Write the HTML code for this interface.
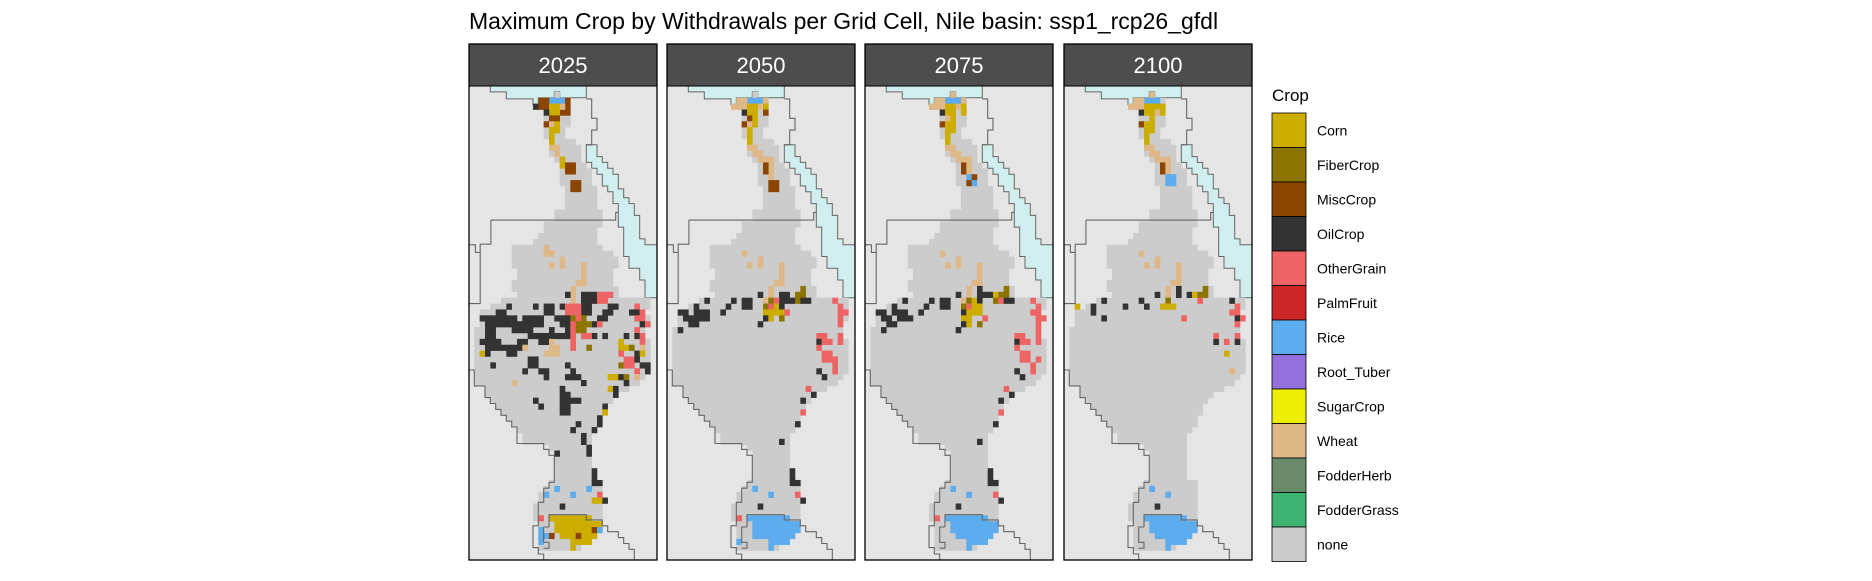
<!DOCTYPE html>
<html><head><meta charset="utf-8"><style>
html,body{margin:0;padding:0;background:#fff;}
body{width:1872px;height:576px;overflow:hidden;font-family:"Liberation Sans",sans-serif;}
svg text{font-family:"Liberation Sans",sans-serif;}
</style></head><body>
<svg id="chart" width="1872" height="576" viewBox="0 0 1872 576" xmlns="http://www.w3.org/2000/svg">
<text x="469" y="29" font-size="23" fill="#000">Maximum Crop by Withdrawals per Grid Cell, Nile basin: ssp1_rcp26_gfdl</text>
<g id="panels"></g>
<g id="legend"></g>
</svg>
<script>
// ---- data ----
const years = ['2025','2050','2075','2100'];
const cropNames = ['Corn','FiberCrop','MiscCrop','OilCrop','OtherGrain','PalmFruit','Rice','Root_Tuber','SugarCrop','Wheat','FodderHerb','FodderGrass','none'];
const cropCodes = ['C','F','M','O','G','P','R','T','S','W','H','A','N'];
const cropColors = ['#cdad00','#8b7500','#8b4500','#333333','#ee6363','#cd2626','#5cacee','#9370db','#eeee00','#deb887','#698b69','#3cb371','#cccccc'];
// basin rows: [row, colStart, colEnd)
const basinRows = [[1,16,17],[2,13,19],[3,12,19],[4,14,19],[5,14,19],[6,14,19],[7,14,18],[8,14,18],[9,15,20],[10,15,21],[11,15,21],[12,16,21],[13,17,22],[14,17,23],[15,17,23],[16,17,23],[17,18,24],[18,18,24],[19,18,24],[20,18,24],[21,16,25],[22,16,25],[23,14,25],[24,14,24],[25,13,24],[26,12,24],[27,8,25],[28,8,27],[29,8,28],[30,8,28],[31,9,27],[32,9,27],[33,8,27],[34,8,28],[35,9,28],[36,6,34],[37,4,34],[38,2,33],[39,2,34],[40,2,33],[41,1,33],[42,1,33],[43,1,34],[44,1,34],[45,1,34],[46,1,34],[47,1,34],[48,1,34],[49,1,33],[50,1,32],[51,3,30],[52,3,28],[53,4,27],[54,5,26],[55,6,26],[56,7,25],[57,8,25],[58,9,24],[59,10,23],[60,10,23],[61,15,23],[62,16,23],[63,16,23],[64,16,23],[65,16,23],[66,16,23],[67,15,25],[68,14,25],[69,13,25],[70,13,25],[71,12,25],[72,12,25],[73,12,25],[74,13,25],[75,13,25],[76,13,24],[77,13,23],[78,13,21]];
const lakeRows = [[73,15,23],[74,16,25],[75,16,25],[76,17,24],[77,19,23],[78,19,20]];
const lakeCrop = ['C','R','R','R'];
const cells2025 = [[15,2,'R'],[16,2,'R'],[17,2,'R'],[13,2,'M'],[14,2,'M'],[13,3,'M'],[14,3,'M'],[12,3,'O'],[18,2,'M'],[18,3,'M'],[18,4,'M'],[17,4,'M'],[15,3,'C'],[16,3,'C'],[17,3,'W'],[15,4,'C'],[16,4,'C'],[14,4,'O'],[15,5,'M'],[16,5,'M'],[14,6,'M'],[15,6,'W'],[16,6,'C'],[15,7,'C'],[16,7,'C'],[15,8,'C'],[15,9,'C'],[15,10,'W'],[16,10,'W'],[16,11,'W'],[17,12,'C'],[17,13,'C'],[18,13,'M'],[19,13,'M'],[18,14,'M'],[19,14,'M'],[19,16,'M'],[20,16,'M'],[19,17,'M'],[20,17,'M'],
[14,27,'W'],[14,28,'W'],[15,28,'W'],[17,29,'W'],[17,30,'W'],[15,30,'W'],[21,30,'W'],[21,31,'W'],[21,32,'W'],[20,33,'W'],[21,33,'W'],[19,34,'W'],[19,35,'W'],[19,36,'W'],
[18,35,'O'],[21,35,'O'],[22,35,'O'],[23,35,'O'],[21,36,'O'],[22,36,'O'],[23,36,'O'],[24,35,'G'],[25,35,'G'],[26,35,'G'],[24,36,'G'],[25,36,'G'],
[7,37,'O'],[12,37,'O'],[14,37,'O'],[15,37,'O'],[17,37,'O'],[21,37,'O'],[22,37,'O'],[26,37,'O'],[27,37,'O'],[18,37,'G'],[19,37,'G'],[20,37,'G'],[31,37,'G'],
[5,38,'O'],[6,38,'O'],[14,38,'O'],[15,38,'O'],[21,38,'O'],[22,38,'O'],[25,38,'O'],[26,38,'O'],[30,38,'O'],[31,38,'O'],[18,38,'G'],[19,38,'G'],[20,38,'G'],[32,38,'G'],
[2,39,'O'],[3,39,'O'],[4,39,'O'],[5,39,'O'],[6,39,'O'],[7,39,'O'],[8,39,'O'],[10,39,'O'],[11,39,'O'],[12,39,'O'],[13,39,'O'],[16,39,'O'],[17,39,'O'],[18,39,'O'],[24,39,'O'],[25,39,'O'],[19,39,'F'],[21,39,'F'],[20,39,'G'],[31,39,'G'],[32,39,'G'],
[3,40,'O'],[4,40,'O'],[5,40,'O'],[6,40,'O'],[7,40,'O'],[8,40,'O'],[9,40,'O'],[10,40,'O'],[11,40,'O'],[12,40,'O'],[13,40,'O'],[17,40,'O'],[18,40,'O'],[23,40,'O'],[32,40,'O'],[19,40,'G'],[24,40,'G'],[33,40,'G'],[20,40,'F'],[21,40,'F'],[22,40,'F'],
[3,41,'O'],[4,41,'O'],[8,41,'O'],[9,41,'O'],[10,41,'O'],[11,41,'O'],[15,41,'O'],[18,41,'O'],[19,41,'G'],[31,41,'G'],[20,41,'F'],[21,41,'F'],
[3,42,'O'],[4,42,'O'],[11,42,'O'],[12,42,'O'],[13,42,'O'],[14,42,'O'],[15,42,'O'],[16,42,'O'],[17,42,'O'],[18,42,'O'],[23,42,'O'],[25,42,'O'],[29,42,'O'],[31,42,'O'],[19,42,'G'],[21,42,'G'],[22,42,'G'],[32,42,'G'],
[2,43,'O'],[3,43,'O'],[4,43,'O'],[5,43,'O'],[9,43,'O'],[10,43,'O'],[13,43,'O'],[14,43,'O'],[15,43,'W'],[19,43,'G'],[28,43,'C'],[32,43,'G'],
[3,44,'O'],[4,44,'O'],[5,44,'O'],[6,44,'O'],[7,44,'O'],[8,44,'O'],[9,44,'O'],[10,44,'W'],[15,44,'W'],[16,44,'W'],[19,44,'G'],[22,44,'F'],[28,44,'C'],[29,44,'C'],[30,44,'F'],[32,44,'W'],
[2,45,'C'],[3,45,'O'],[7,45,'O'],[8,45,'O'],[14,45,'W'],[15,45,'W'],[16,45,'W'],[28,45,'G'],[31,45,'O'],[32,45,'C'],
[11,46,'O'],[12,46,'O'],[29,46,'G'],[30,46,'G'],[31,46,'O'],
[4,47,'O'],[11,47,'O'],[12,47,'O'],[18,47,'O'],[28,47,'F'],[29,47,'G'],[30,47,'G'],[32,47,'O'],[33,47,'O'],
[10,48,'O'],[13,48,'O'],[14,48,'O'],[19,48,'O'],[31,48,'G'],[33,48,'O'],
[14,49,'O'],[18,49,'O'],[19,49,'O'],[20,49,'O'],[26,49,'C'],[27,49,'C'],[28,49,'O'],[29,49,'F'],[31,49,'W'],
[8,50,'W'],[21,50,'O'],[29,50,'O'],[26,51,'C'],[17,51,'O'],[27,51,'O'],[17,52,'O'],[18,52,'O'],[27,52,'O'],
[12,53,'O'],[17,53,'O'],[18,53,'O'],[19,53,'O'],[20,53,'O'],[13,54,'O'],[17,54,'O'],[18,54,'O'],[25,54,'O'],[17,55,'O'],[18,55,'O'],[25,55,'C'],
[24,56,'O'],[20,57,'O'],[24,57,'O'],[19,58,'O'],[23,58,'O'],[21,59,'O'],[21,60,'O'],[22,61,'O'],[16,62,'O'],[22,62,'O'],
[23,65,'O'],[23,66,'O'],[23,67,'O'],[24,67,'O'],[16,68,'R'],[22,68,'R'],[14,69,'R'],[19,69,'R'],[24,69,'G'],[23,70,'C'],[24,70,'C'],[25,70,'O'],[17,71,'O'],[13,73,'G'],
[23,74,'C'],[24,74,'C'],[13,75,'R'],[13,76,'R'],[13,77,'R'],[14,76,'R'],[15,76,'M'],[23,75,'M'],[24,75,'R'],[20,76,'M']];
const cells2050 = [[15,2,'R'],[16,2,'R'],[17,2,'R'],[13,2,'W'],[14,2,'W'],[12,3,'W'],[13,3,'W'],[14,3,'W'],[18,2,'W'],[17,3,'W'],[15,3,'C'],[16,3,'C'],[18,3,'C'],[18,4,'M'],[14,4,'O'],[15,4,'C'],[16,4,'C'],[15,5,'M'],[16,5,'C'],[14,6,'M'],[15,6,'W'],[16,6,'C'],[15,7,'C'],[15,8,'C'],[15,9,'C'],[15,10,'W'],[16,10,'W'],[16,11,'W'],[17,11,'W'],[17,12,'W'],[18,12,'W'],[19,12,'W'],[19,13,'W'],[19,14,'W'],[19,15,'W'],[18,13,'M'],[18,14,'M'],[19,16,'M'],[20,16,'M'],[19,17,'M'],[20,17,'M'],
[14,28,'W'],[15,30,'W'],[17,29,'W'],[17,30,'W'],[21,30,'W'],[21,31,'W'],[21,32,'W'],[20,33,'W'],[21,33,'W'],[19,34,'W'],[19,35,'W'],
[17,35,'O'],[21,35,'O'],[22,35,'O'],[24,35,'F'],[25,35,'F'],[25,34,'F'],
[7,36,'O'],[12,36,'O'],[14,36,'O'],[15,36,'O'],[21,36,'O'],[22,36,'O'],[23,36,'O'],[24,36,'F'],[25,36,'O'],[26,36,'O'],[18,36,'W'],[19,36,'F'],[20,36,'G'],[31,36,'G'],
[5,37,'O'],[11,37,'O'],[14,37,'O'],[15,37,'O'],[18,37,'F'],[19,37,'G'],[20,37,'C'],[21,37,'O'],[32,37,'G'],
[2,38,'O'],[3,38,'O'],[5,38,'O'],[6,38,'O'],[7,38,'O'],[10,38,'O'],[18,38,'C'],[19,38,'C'],[20,38,'C'],[21,38,'C'],[22,38,'G'],[32,38,'G'],[33,38,'G'],
[3,39,'O'],[4,39,'O'],[5,39,'O'],[6,39,'O'],[7,39,'O'],[18,39,'O'],[19,39,'C'],[21,39,'F'],[32,39,'G'],
[4,40,'O'],[5,40,'O'],[17,40,'O'],[32,40,'G'],[2,41,'O'],
[28,42,'G'],[29,42,'G'],[32,42,'G'],[28,43,'O'],[29,43,'G'],[30,43,'G'],[32,43,'G'],[28,44,'G'],[29,45,'G'],[30,45,'G'],[29,46,'G'],[30,46,'G'],[31,46,'G'],[31,47,'G'],[28,48,'O'],[31,48,'G'],[29,49,'O'],
[26,51,'G'],[27,52,'O'],[25,53,'O'],[25,55,'G'],[24,57,'O'],[21,60,'O'],
[23,65,'O'],[23,66,'O'],[23,67,'O'],[24,67,'O'],[16,68,'R'],[19,69,'R'],[24,69,'G'],[25,70,'O'],[17,71,'O'],[13,73,'G'],[16,76,'R'],[13,77,'R']];
const cells2075 = [[16,1,'W'],[15,2,'R'],[16,2,'R'],[17,2,'R'],[13,2,'W'],[14,2,'W'],[18,2,'W'],[12,3,'W'],[13,3,'W'],[14,3,'W'],[15,3,'C'],[16,3,'C'],[17,3,'W'],[18,3,'C'],[18,4,'C'],[14,4,'O'],[15,4,'C'],[16,4,'C'],[15,5,'W'],[16,5,'C'],[14,6,'M'],[15,6,'C'],[16,6,'C'],[15,7,'C'],[16,7,'C'],[15,8,'C'],[15,9,'C'],[15,10,'W'],[16,10,'W'],[16,11,'W'],[17,11,'W'],[17,12,'W'],[18,12,'W'],[19,12,'W'],[18,13,'M'],[18,14,'M'],[19,13,'W'],[19,14,'W'],[19,15,'R'],[20,15,'M'],[19,16,'M'],[20,16,'R'],
[14,28,'W'],[15,30,'W'],[17,29,'W'],[17,30,'W'],[21,30,'W'],[21,31,'W'],[21,32,'W'],[20,33,'W'],[21,33,'W'],[19,34,'W'],[19,35,'W'],
[21,34,'O'],[21,35,'O'],[22,35,'O'],[23,35,'O'],[24,35,'C'],[25,35,'F'],[26,35,'F'],[26,34,'F'],[17,35,'O'],
[7,36,'O'],[12,36,'O'],[14,36,'O'],[15,36,'O'],[18,36,'W'],[19,36,'F'],[20,36,'C'],[21,36,'O'],[24,36,'F'],[25,36,'G'],[26,36,'O'],[27,36,'O'],[31,36,'G'],
[5,37,'O'],[11,37,'O'],[14,37,'O'],[15,37,'O'],[18,37,'F'],[19,37,'G'],[20,37,'C'],[21,37,'C'],[32,37,'G'],
[2,38,'O'],[3,38,'O'],[5,38,'O'],[6,38,'O'],[7,38,'O'],[10,38,'O'],[18,38,'O'],[19,38,'C'],[20,38,'C'],[21,38,'C'],[31,38,'G'],[32,38,'G'],
[3,39,'O'],[4,39,'O'],[6,39,'O'],[7,39,'O'],[8,39,'O'],[18,39,'C'],[19,39,'C'],[22,39,'G'],[32,39,'G'],[33,39,'G'],
[4,40,'O'],[5,40,'O'],[18,40,'O'],[19,40,'C'],[21,40,'F'],[32,40,'G'],[3,41,'O'],[17,41,'O'],[32,41,'G'],
[28,42,'G'],[29,42,'G'],[32,42,'G'],[28,43,'O'],[29,43,'G'],[30,43,'G'],[32,43,'G'],[28,44,'G'],[29,45,'G'],[30,45,'G'],[29,46,'G'],[30,46,'G'],[32,46,'G'],[31,47,'G'],[28,48,'O'],[31,48,'G'],[29,49,'O'],
[26,51,'G'],[27,52,'O'],[25,53,'O'],[25,55,'G'],[24,57,'O'],[21,60,'O'],
[23,65,'O'],[23,66,'O'],[23,67,'O'],[24,67,'O'],[16,68,'R'],[19,69,'R'],[24,69,'G'],[25,70,'O'],[17,71,'O'],[13,73,'G']];
const cells2100 = [[16,1,'W'],[15,2,'R'],[16,2,'R'],[17,2,'R'],[13,2,'W'],[14,2,'W'],[12,3,'W'],[13,3,'W'],[14,3,'W'],[15,3,'C'],[16,3,'C'],[17,3,'C'],[18,3,'C'],[14,4,'O'],[15,4,'C'],[16,4,'C'],[17,4,'W'],[18,4,'C'],[16,5,'C'],[14,6,'M'],[15,6,'C'],[16,6,'C'],[15,7,'C'],[16,7,'C'],[15,8,'C'],[15,9,'C'],[15,10,'W'],[16,10,'W'],[16,11,'W'],[17,11,'W'],[17,12,'W'],[18,12,'W'],[19,12,'W'],[18,13,'M'],[18,14,'M'],[19,13,'W'],[19,14,'W'],[19,15,'R'],[20,15,'R'],[19,16,'R'],[20,16,'R'],
[14,28,'W'],[15,30,'W'],[17,29,'W'],[17,30,'W'],[21,30,'W'],[21,31,'W'],[21,32,'W'],[20,33,'W'],[21,33,'W'],[19,34,'W'],[19,35,'W'],
[21,34,'O'],[21,35,'O'],[23,35,'O'],[24,35,'C'],[25,35,'F'],[26,35,'F'],[26,34,'F'],[17,35,'O'],
[7,36,'O'],[14,36,'O'],[19,36,'F'],[25,36,'G'],[31,36,'O'],
[2,37,'C'],[5,37,'O'],[11,37,'O'],[15,37,'O'],[18,37,'C'],[19,37,'C'],[20,37,'C'],[32,37,'G'],
[5,38,'O'],[31,38,'G'],[32,38,'G'],[7,39,'O'],[22,39,'G'],[32,39,'O'],[33,39,'G'],[32,40,'G'],
[28,42,'G'],[32,42,'G'],[28,43,'O'],[30,43,'G'],[32,43,'O'],[30,45,'C'],[31,48,'W'],
[16,68,'R'],[19,69,'R'],[17,71,'O']];
const panelCells = [cells2025, cells2050, cells2075, cells2100];

// ---- geometry ----
const panelX = [469, 667, 865, 1064];
const PW = 188, STRIP_TOP = 44, TOP = 86, BOTTOM = 560;
const CW = 5.333, RH = 5.88;
const NS = 'http://www.w3.org/2000/svg';
function mk(tag, attrs, parent){ const e=document.createElementNS(NS,tag); for(const k in attrs) e.setAttribute(k,attrs[k]); parent.appendChild(e); return e; }
const colorOf = code => cropColors[cropCodes.indexOf(code)];
const medPoly = [[4,-0.3],[22,-0.3],[22,2],[17,2],[17,1],[16,1],[16,2],[13,2],[13,3.2],[12,3.2],[12,2.2],[7,2.2],[7,1],[4,1]];
const redSea = [[22,10],[22,13],[23,13],[23,14],[24,14],[24,15],[25,15],[25,17],[26,17],[26,18],[27,18],[27,20],[28,20],[28,24],[29,24],[29,29],[30,29],[30,31],[32,31],[32,33],[33,33],[33,36],[35.4,36],[35.4,27],[33,27],[33,26],[32,26],[32,22],[31,22],[31,20],[30,20],[30,19],[29,19],[29,17.5],[28,17.5],[28,15],[27,15],[27,14],[26,14],[26,13],[25,13],[25,12],[24,12],[24,10]];
const borders = [
 [[22,2.2],[23,2.2],[23,5.5],[24,5.5],[24,7.5],[23,7.5],[23,10],[22,10]],
 [[4.1,22.8],[27.5,22.8],[27.5,21.5],[28,21.5]],
 [[4.1,22.8],[4.1,26.9],[2.1,26.9],[2.1,37],[0,37]],
 [[0,27],[1.2,27],[1.2,28.3],[2.1,28.3]],
 [[0,48.3],[1,48.3],[1,51],[3,51],[3,53],[4,53],[4,54],[5,54],[5,55],[6,55],[6,56],[7,56],[7,57],[8,57],[8,58],[9,58],[9,60.8],[14,60.8],[14,61.8],[15,61.8],[15,62.8],[16,62.8],[16,67.4],[15,67.4],[15,68.4],[14,68.4],[14,70.8],[13,70.8],[13,74.8],[12,74.8],[12,78.5],[13,78.5],[13,79.6],[14,79.6],[14,80.7]],
 [[15,75],[15,72.9],[22,72.9],[22,73.8],[25,73.8],[25,74.8],[26,74.8],[26,75.8],[28,75.8],[28,76.8],[29,76.8],[29,77.8],[30,77.8],[30,78.8],[31,78.8],[31,80.7]],
 [[15,75],[14,75],[14,77.6],[15,77.6],[15,78.6],[14,78.6]]
];

const panelsG = document.getElementById('panels');
years.forEach((yr, i) => {
  const x0 = panelX[i];
  const px = c => x0 + c*CW;
  const py = r => TOP + r*RH;
  const g = mk('g', {}, panelsG);
  
  
  const clipId = 'clip' + i;
  const cp = mk('clipPath', {id: clipId}, g);
  mk('rect', {x: x0, y: TOP, width: PW, height: BOTTOM-TOP}, cp);
  const bg = mk('rect', {x: x0, y: TOP, width: PW, height: BOTTOM-TOP, fill: '#e5e5e5'}, g);
  
  
  const inner = mk('g', {'clip-path': 'url(#' + clipId + ')'}, g);
  const ptsStr = pts => pts.map(p => px(p[0]).toFixed(1) + ',' + py(p[1]).toFixed(1)).join(' ');
  const med = mk('polygon', {points: ptsStr(medPoly), fill: '#d1eeee', stroke: '#666', 'stroke-width': 1}, inner);
  
  
  const rs = mk('polygon', {points: ptsStr(redSea), fill: '#d1eeee', stroke: '#666', 'stroke-width': 1}, inner);
  
  
  basinRows.forEach(b => {
    const r = mk('rect', {x: px(b[1]).toFixed(2), y: py(b[0]).toFixed(2), width: ((b[2]-b[1])*CW+0.3).toFixed(2), height: (RH+0.3).toFixed(2), fill: '#cccccc'}, inner);
    
    
  });
  lakeRows.forEach(b => {
    const r = mk('rect', {x: px(b[1]).toFixed(2), y: py(b[0]).toFixed(2), width: ((b[2]-b[1])*CW+0.3).toFixed(2), height: (RH+0.3).toFixed(2), fill: colorOf(lakeCrop[i])}, inner);
    
    
  });
  panelCells[i].forEach(c => {
    const r = mk('rect', {x: px(c[0]).toFixed(2), y: py(c[1]).toFixed(2), width: (CW+0.3).toFixed(2), height: (RH+0.3).toFixed(2), fill: colorOf(c[2])}, inner);
    
    
  });
  borders.forEach(bd => {
    const l = mk('polyline', {points: ptsStr(bd), fill: 'none', stroke: '#666', 'stroke-width': 1.1}, inner);
    
    
  });
  const strip = mk('rect', {x: x0, y: STRIP_TOP, width: PW, height: TOP-STRIP_TOP, fill: '#4d4d4d'}, g);
  
  
  const st = mk('text', {x: x0+PW/2, y: 73, 'font-size': 22, fill: '#fff', 'text-anchor': 'middle'}, g);
  st.textContent = yr;
  
  
  const fr = mk('rect', {x: x0, y: STRIP_TOP, width: PW, height: BOTTOM-STRIP_TOP, fill: 'none', stroke: '#000', 'stroke-width': 1.3}, g);
  
  
  mk('line', {x1: x0, x2: x0+PW, y1: TOP, y2: TOP, stroke: '#000', 'stroke-width': 1}, g);
});

// legend
const lg = document.getElementById('legend');
const lt = mk('text', {x: 1272, y: 101, 'font-size': 17, fill: '#000'}, lg);
lt.textContent = 'Crop';


const KEY_H = 34.5;
cropNames.forEach((n, k) => {
  const y = 113 + k*KEY_H;
  const kr = mk('rect', {x: 1272, y: y, width: 34, height: KEY_H, fill: cropColors[k], stroke: '#000', 'stroke-width': 0.8}, lg);
  
  
  const kt = mk('text', {x: 1317, y: y + KEY_H/2 + 5, 'font-size': 14, fill: '#000'}, lg);
  kt.textContent = n;
  
  
});
</script>
</body></html>
